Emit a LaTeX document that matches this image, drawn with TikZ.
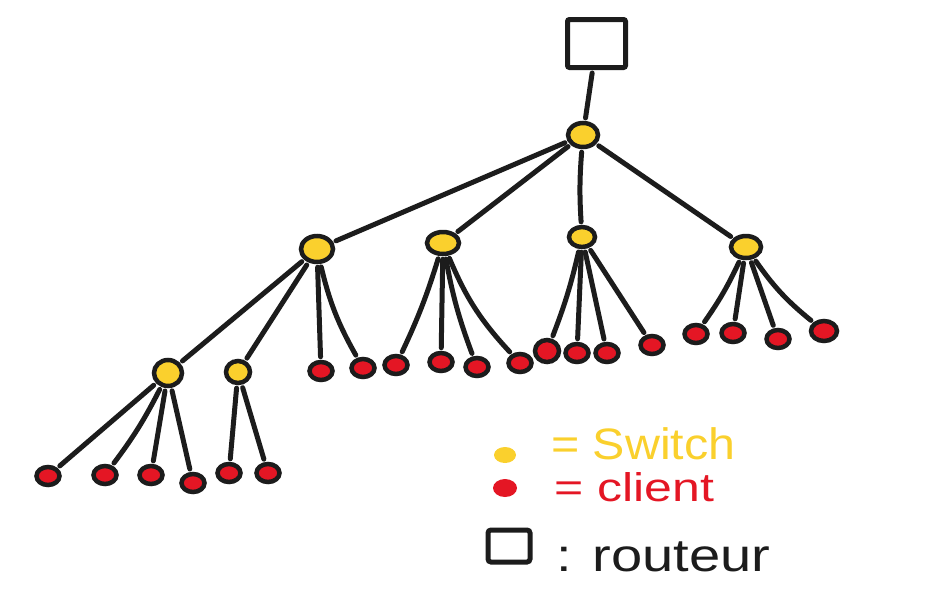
\documentclass[tikz,border=0pt]{standalone}
\usepackage{fontspec}
\setmainfont{Liberation Sans}
\usetikzlibrary{shapes.geometric}
\definecolor{ink}{RGB}{28,28,28}
\definecolor{swy}{RGB}{250,208,45}
\definecolor{clr}{RGB}{228,22,36}
\tikzset{
  sw/.style={ellipse, draw=ink, line width=4.5pt, fill=swy, inner sep=0pt},
  cl/.style={ellipse, draw=ink, line width=4.5pt, fill=clr, inner sep=0pt, minimum width=23pt, minimum height=18pt},
  link/.style={draw=ink, line width=5pt, line cap=round, shorten <=3pt, shorten >=3pt},
  legtext/.style={anchor=base west, inner sep=0pt}
}
\begin{document}
\begin{tikzpicture}[x=1pt,y=-1pt]
\useasboundingbox (0,0) rectangle (925,611);
% router
\node[draw=ink, line width=5pt, rounded corners=2pt, minimum width=58pt, minimum height=48pt, inner sep=0pt] (R) at (596.5,43.5) {};
% switches
\node[sw, minimum width=30pt, minimum height=24pt] (S0) at (583,135) {};
\node[sw, minimum width=32pt, minimum height=26pt] (S1) at (317,249) {};
\node[sw, minimum width=32pt, minimum height=22pt] (S2) at (443,243) {};
\node[sw, minimum width=26pt, minimum height=20pt] (S3) at (582,237) {};
\node[sw, minimum width=30pt, minimum height=22pt] (S4) at (746,247) {};
\node[sw, minimum width=28pt, minimum height=26pt] (S5) at (168,373) {};
\node[sw, minimum width=24pt, minimum height=22pt] (S6) at (238,372) {};
% clients under S5
\node[cl] (a1) at (48,476) {};
\node[cl] (a2) at (105,475) {};
\node[cl] (a3) at (151,475) {};
\node[cl] (a4) at (193,483) {};
% under S6
\node[cl] (b1) at (229,473) {};
\node[cl] (b2) at (268,473) {};
% under S1
\node[cl] (c1) at (321,371) {};
\node[cl] (c2) at (363,368) {};
% under S2
\node[cl] (d1) at (396,365) {};
\node[cl] (d2) at (441,362) {};
\node[cl] (d3) at (477,367) {};
\node[cl] (d4) at (520,363) {};
% under S3
\node[cl, minimum width=24pt, minimum height=22pt] (e1) at (547,351) {};
\node[cl] (e2) at (577,353) {};
\node[cl] (e3) at (607,353) {};
\node[cl] (e4) at (652,345) {};
% under S4
\node[cl] (f1) at (696,334) {};
\node[cl] (f2) at (733,333) {};
\node[cl] (f3) at (778,339) {};
\node[cl, minimum width=26pt, minimum height=20pt] (f4) at (824,331) {};
% links
\draw[link] (R) -- (S0);
\draw[link] (S0) -- (S1);
\draw[link] (S0) -- (S2);
\draw[link] (S0) to[bend right=4] (S3);
\draw[link] (S0) -- (S4);
\draw[link] (S1) -- (S5);
\draw[link] (S1) -- (S6);
\draw[link] (S1) -- (c1);
\draw[link] (S1) to[bend right=8] (c2);
\draw[link] (S5) -- (a1);
\draw[link] (S5) to[bend left=5] (a2);
\draw[link] (S5) -- (a3);
\draw[link] (S5) -- (a4);
\draw[link] (S6) -- (b1);
\draw[link] (S6) -- (b2);
\draw[link] (S2) to[bend left=4] (d1);
\draw[link] (S2) -- (d2);
\draw[link] (S2) to[bend right=5] (d3);
\draw[link] (S2) to[bend right=10] (d4);
\draw[link] (S3) to[bend left=4] (e1);
\draw[link] (S3) -- (e2);
\draw[link] (S3) -- (e3);
\draw[link] (S3) -- (e4);
\draw[link] (S4) to[bend left=5] (f1);
\draw[link] (S4) -- (f2);
\draw[link] (S4) -- (f3);
\draw[link] (S4) to[bend right=8] (f4);
% legend
\node[ellipse, fill=swy, inner sep=0pt, minimum width=22pt, minimum height=16pt] (Lsw) at (505,455) {};
\node[legtext, text=swy, font=\fontsize{44}{44}\selectfont] (Tsw) at (551,459) {\scalebox{1.1}[1]{= Switch}};
\node[ellipse, fill=clr, inner sep=0pt, minimum width=24pt, minimum height=18pt] (Lcl) at (505,488) {};
\node[legtext, text=clr, font=\fontsize{40}{40}\selectfont] (Tcl) at (554,501) {\scalebox{1.25}[1]{= client}};
\node[draw=ink, line width=5pt, rounded corners=3pt, minimum width=42pt, minimum height=32pt, inner sep=0pt] (Lrt) at (509,546) {};
\node[legtext, text=ink, font=\fontsize{46}{46}\selectfont] (Trt) at (556,571) {\scalebox{1.22}[1]{: routeur}};
\end{tikzpicture}
\end{document}
